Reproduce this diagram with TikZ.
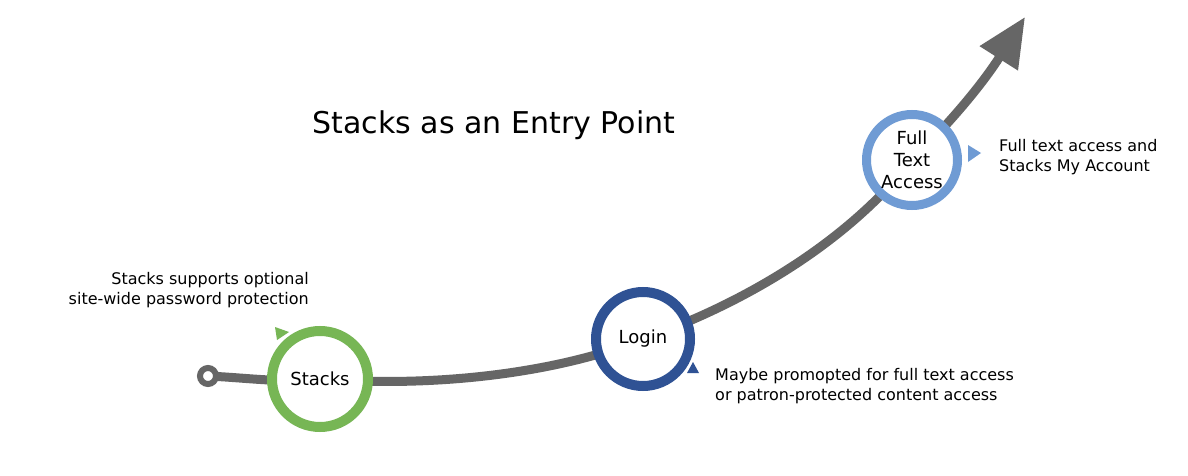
\documentclass[tikz,border=0pt]{standalone}
\usepackage{fontspec}
\setmainfont{DejaVu Sans}
\usetikzlibrary{arrows.meta,backgrounds}
\definecolor{cgreen}{HTML}{77B655}
\definecolor{cdblue}{HTML}{2F5294}
\definecolor{clblue}{HTML}{6F9BD4}
\definecolor{cgray}{HTML}{666666}
\tikzset{
  ring/.style={circle, draw=#1, line width=10pt, fill=white, inner sep=0pt, minimum size=96pt, font=\fontsize{18}{22}\selectfont, align=center, text=black},
  note/.style={font=\fontsize{16}{19.5}\selectfont, text=black, inner sep=0pt},
  marker/.style={fill=#1, draw=none},
  track/.style={draw=cgray, line width=9pt}
}
\begin{document}
\begin{tikzpicture}[x=1pt,y=-1pt]
\useasboundingbox (0,0) rectangle (1188,476);
\node[font=\fontsize{30}{34}\selectfont, inner sep=0pt] (title) at (494,125) {Stacks as an Entry Point};
\node[circle, draw=cgray, line width=6pt, fill=white, minimum size=16pt, inner sep=0pt] (start) at (208,376) {};
\node[ring=cgreen] (stacks) at (320,379) {Stacks};
\node[ring=cdblue, minimum size=94pt] (login) at (643,339) {Login};
\node[ring=clblue, line width=9pt, minimum size=91pt] (fta) at (912,160) {Full\\Text\\Access};
\coordinate (tip) at (1025,17);
\begin{scope}[on background layer]
\fill[white] (0,0) rectangle (1188,476);
\draw[track, -{Triangle[length=49pt,width=43pt]}]
  (start.center) .. controls (250,378) and (280,383) .. (stacks.center)
  .. controls (440,388) and (560,372) .. (login.center)
  .. controls (740,305) and (845,245) .. (fta.center)
  .. controls (955,118) and (985,80) .. (tip);
\end{scope}
\fill[marker=cgreen] (275,327) -- (289,332) -- (277,340) -- cycle;
\fill[marker=cdblue] (687,373) -- (693,362) -- (699,373) -- cycle;
\fill[marker=clblue] (968,145) -- (981,153) -- (968,162) -- cycle;
\node[note, align=right, anchor=east] (n1) at (309,290) {Stacks supports optional\\site-wide password protection};
\node[note, align=left, anchor=west] (n2) at (715,386) {Maybe promopted for full text access\\or patron-protected content access};
\node[note, align=left, anchor=west] (n3) at (999,157) {Full text access and\\Stacks My Account};
\end{tikzpicture}
\end{document}
